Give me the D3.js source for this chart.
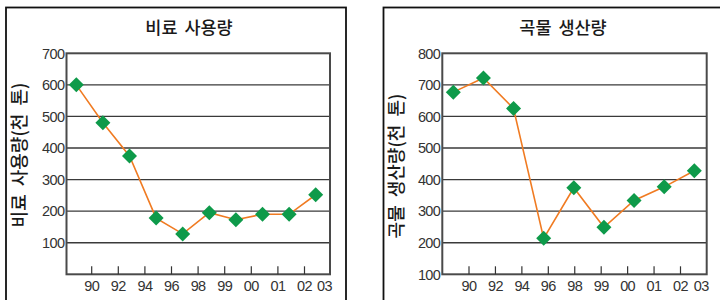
<!DOCTYPE html>
<html><head><meta charset="utf-8">
<script src="https://cdn.jsdelivr.net/npm/d3@7"></script>
<style>
body{margin:0;background:#fff;}
svg{display:block;}
.num{font-family:"Liberation Sans",Arial,sans-serif;font-size:14.5px;fill:#333;letter-spacing:-0.6px;}
.kr{font-family:"Noto Sans CJK KR",sans-serif;fill:#1a1a1a;font-weight:500;}
</style></head>
<body>
<svg id="c" width="720" height="300"></svg>
<script>
// ---- data ----
const xTickLabels = ["90","92","94","96","98","99","00","01","02"];
const xLastLabel = "03";

const fertTitle = "비료 사용량";
const fertYLabel = "비료 사용량(천 톤)";
const fertValues = [600, 480, 375, 178, 128, 195, 173, 190, 190, 252];
const fertYTicks = [100, 200, 300, 400, 500, 600, 700];

const grainTitle = "곡물 생산량";
const grainYLabel = "곡물 생산량(천 톤)";
const grainValues = [677, 722, 625, 214, 374, 249, 334, 377, 428];
const grainYTicks = [100, 200, 300, 400, 500, 600, 700, 800];

const svg = d3.select("#c");

function panel(opt){
  const g = svg.append("g");
  // outer box
  g.append("rect").attr("x", opt.boxX0).attr("y", 7.5)
   .attr("width", opt.boxX1 - opt.boxX0).attr("height", 320)
   .attr("fill", "none").attr("stroke", "#111").attr("stroke-width", 1.8);

  const y = d3.scaleLinear().domain(opt.yDomain).range([opt.py1, opt.py0]);
  const x = d3.scaleLinear().domain([0, opt.values.length - 1]).range(opt.ptRange);
  const xt = d3.scalePoint().domain(xTickLabels).range(opt.tickRange);

  // gridlines
  g.append("g").selectAll("line").data(opt.yTicks.filter(v => v > opt.yDomain[0] && v < opt.yDomain[1]))
   .join("line")
   .attr("x1", opt.px0).attr("x2", opt.px1)
   .attr("y1", d => y(d)).attr("y2", d => y(d))
   .attr("stroke", "#3a3a3a").attr("stroke-width", 1.3);

  // plot border
  g.append("rect").attr("x", opt.px0).attr("y", opt.py0)
   .attr("width", opt.px1 - opt.px0).attr("height", opt.py1 - opt.py0)
   .attr("fill", "none").attr("stroke", "#4a4a4a").attr("stroke-width", 2);

  // y tick labels
  g.append("g").selectAll("text").data(opt.yTicks).join("text")
   .attr("class", "num")
   .attr("x", opt.px0 - 2).attr("y", d => y(d)).attr("dy", "0.36em")
   .attr("text-anchor", "end").text(d => d);

  // x ticks
  g.append("g").selectAll("line").data(xTickLabels).join("line")
   .attr("x1", d => xt(d)).attr("x2", d => xt(d))
   .attr("y1", opt.py1).attr("y2", opt.py1 - 8)
   .attr("stroke", "#333").attr("stroke-width", 1.2);
  g.append("g").selectAll("text").data(xTickLabels).join("text")
   .attr("class", "num")
   .attr("x", d => xt(d)).attr("y", opt.py1 + 17)
   .attr("text-anchor", "middle").text(d => d);
  g.append("text").attr("class", "num")
   .attr("x", opt.px1 + 2).attr("y", opt.py1 + 17)
   .attr("text-anchor", "end").text(xLastLabel);

  // line
  const line = d3.line().x((d, i) => x(i)).y(d => y(d));
  g.append("path").datum(opt.values).attr("d", line)
   .attr("fill", "none").attr("stroke", "#f07b22").attr("stroke-width", 1.6);

  // markers
  const s = 7.5;
  g.append("g").selectAll("path").data(opt.values).join("path")
   .attr("d", (d, i) => {
     const cx = x(i), cy = y(d);
     return `M${cx},${cy - s}L${cx + s},${cy}L${cx},${cy + s}L${cx - s},${cy}Z`;
   })
   .attr("fill", "#0e9a4a");

  // title
  g.append("text").attr("class", "kr")
   .attr("x", opt.titleX).attr("y", 34)
   .attr("text-anchor", "middle").style("font-size", "17.5px")
   .attr("word-spacing", "3px")
   .text(opt.title);

  // y label
  g.append("text").attr("class", "kr")
   .attr("transform", `translate(${opt.ylX},${opt.ylY}) rotate(-90)`)
   .attr("text-anchor", "middle").style("font-size", "18px")
   .attr("word-spacing", "4px")
   .text(opt.yLabel);
}

panel({
  boxX0: 6, boxX1: 346,
  px0: 66.5, px1: 330, py0: 53.3, py1: 274.3,
  yDomain: [0, 700], yTicks: fertYTicks,
  values: fertValues, ptRange: [76.3, 315.7],
  tickRange: [91.7, 304.5],
  title: fertTitle, titleX: 189,
  yLabel: fertYLabel, ylX: 26, ylY: 155
});

panel({
  boxX0: 383.5, boxX1: 740,
  px0: 442.3, px1: 706.7, py0: 53.3, py1: 274.3,
  yDomain: [100, 800], yTicks: grainYTicks,
  values: grainValues, ptRange: [453.3, 694.3],
  tickRange: [469, 680.5],
  title: grainTitle, titleX: 563,
  yLabel: grainYLabel, ylX: 403, ylY: 166
});
</script>
</body></html>
